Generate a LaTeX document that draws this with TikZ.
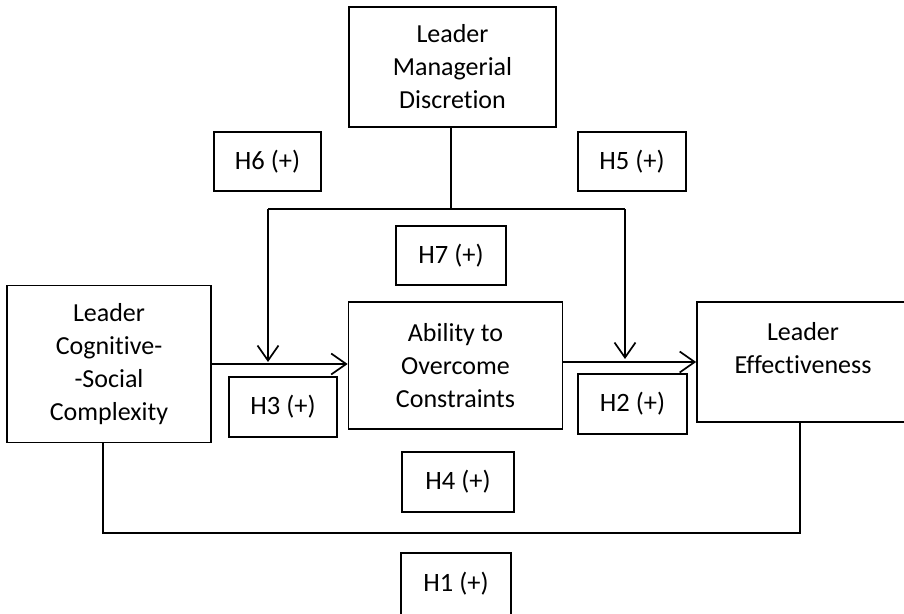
\documentclass[tikz,border=0pt]{standalone}
\usepackage{fontspec}
\setmainfont[Ligatures=NoCommon]{Carlito}
\usetikzlibrary{arrows.meta}
\tikzset{
  box/.style={draw, line width=1.7pt, rectangle, inner sep=0pt, align=center,
    font=\fontsize{26}{33}\selectfont},
  hbox/.style={box, font=\fontsize{26.5}{33}\selectfont},
  conn/.style={line width=1.7pt},
  arr/.style={conn, -{Straight Barb[length=15pt,width=21pt,line width=1.7pt]}}
}
\begin{document}
\begin{tikzpicture}[x=1pt,y=-1pt]
\clip (0,0) rectangle (904,613);
\fill[white] (0,0) rectangle (904,613);
% main nodes
\node[box, minimum width=207pt, minimum height=120pt] (lmd) at (452.5,67) {Leader\\Managerial\\Discretion};
\node[box, minimum width=204pt, minimum height=157pt] (lcsc) at (109,364) {Leader\\Cognitive-\\-Social\\Complexity};
\node[box, minimum width=214pt, minimum height=127pt] (abil) at (455.5,365.5) {Ability to\\Overcome\\Constraints};
\node[box, minimum width=213pt, minimum height=120pt] (le) at (803.5,362) {};
\node[font=\fontsize{26}{33}\selectfont, align=center] (letext) at (803,348) {Leader\\Effectiveness};
% hypothesis labels
\node[hbox, minimum width=107pt, minimum height=59pt] (h6) at (267.5,161.5) {H6 (+)};
\node[hbox, minimum width=108pt, minimum height=59pt] (h5) at (632,161.5) {H5 (+)};
\node[hbox, minimum width=110pt, minimum height=59pt] (h7) at (451,255.5) {H7 (+)};
\node[hbox, minimum width=108pt, minimum height=60pt] (h3) at (283,407) {H3 (+)};
\node[hbox, minimum width=109pt, minimum height=60pt] (h2) at (632.5,404) {H2 (+)};
\node[hbox, minimum width=112pt, minimum height=60pt] (h4) at (458,482) {H4 (+)};
\node[hbox, minimum width=110pt, minimum height=62pt] (h1) at (456,584) {H1 (+)};
% connector coordinates
\coordinate (jm) at (451,209);
\coordinate (jl) at (268,209);
\coordinate (jr) at (625,209);
\coordinate (tl) at (268,362);
\coordinate (tr) at (625,359);
\coordinate (b1) at (800,533);
\coordinate (b2) at (103,533);
% connectors
\draw[conn] (lmd.south -| jm) -- (jm);
\draw[conn] (jl) -- (jr);
\draw[arr] (jl) -- (tl);
\draw[arr] (jr) -- (tr);
\draw[arr] (lcsc.east) -- (lcsc.east -| abil.west);
\draw[arr] (abil.east |- le.west) -- (le.west);
\draw[conn] (le.south -| b1) -- (b1) -- (b2) -- (b2 |- lcsc.south);
\end{tikzpicture}
\end{document}
